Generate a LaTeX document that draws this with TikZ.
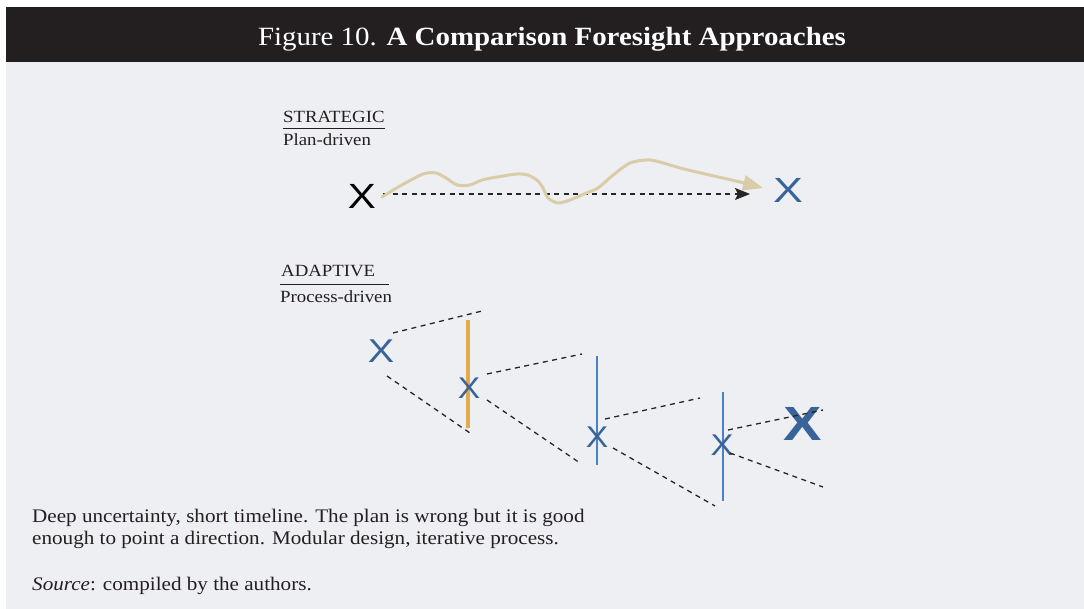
\documentclass[tikz,border=0pt]{standalone}
\usepackage{fontspec}
\setmainfont{Liberation Serif}[FakeStretch=1.1]
\usetikzlibrary{arrows.meta}
\newfontfamily\xfont{Liberation Sans}
\definecolor{panel}{HTML}{EEEFF3}
\definecolor{barc}{HTML}{231F20}
\definecolor{xblue}{HTML}{3A6499}
\definecolor{lblue}{HTML}{4A80C8}
\definecolor{orng}{HTML}{E2AA4A}
\definecolor{tanc}{HTML}{D9CCA8}
\definecolor{txt}{HTML}{231F20}
\tikzset{
  lbl/.style={inner sep=0, anchor=base west, text=txt, font=\fontsize{17.1}{20}\selectfont},
  body/.style={inner sep=0, anchor=base west, text=txt, font=\fontsize{19.2}{22}\selectfont},
  xm/.style={inner sep=0, text=xblue, font=\xfont\fontsize{33}{33}\selectfont},
  xs/.style={inner sep=0, text=xblue, font=\xfont\fontsize{30}{30}\selectfont},
  dsh/.style={draw=black!85, line width=1.3pt, dash pattern=on 5pt off 4.5pt},
}
\begin{document}
\begin{tikzpicture}[x=1pt,y=-1pt]
\useasboundingbox (0,0) rectangle (1084,609);
\fill[white] (0,0) rectangle (1084,609);
\fill[panel] (6,62) rectangle (1084,609);
\fill[barc] (6,7) rectangle (1084,62);
\node[inner sep=0, anchor=base, text=white, font=\fontsize{26.3}{30}\selectfont] (title) at (552,46) {Figure 10. \textbf{A Comparison Foresight Approaches}};

% STRATEGIC
\node[lbl] (strat) at (283,123) {STRATEGIC};
\draw[txt, line width=0.9pt] (283,128.5) -- (385,128.5);
\node[lbl] (plan) at (283,146) {Plan-driven};

\node[inner sep=0, text=black, font=\xfont\fontsize{35}{35}\selectfont] (xa) at (362,196) {\scalebox{1.2}[1]{X}};
\node[inner sep=0, text=xblue, font=\xfont\fontsize{35}{35}\selectfont] (xb) at (788,190) {\scalebox{1.28}[1]{X}};
\coordinate (ds) at (383,194);
\coordinate (de) at (750,194);
\draw[dsh, -{Stealth[length=15pt,width=12pt,inset=3pt]}] (ds) -- (de);
\draw[tanc, line width=3pt, line cap=round, line join=round, -{Triangle[length=20pt,width=15pt]}]
  plot[smooth, tension=0.45] coordinates {(382,197) (400,186) (423,174) (436,173) (446,178) (457,185) (470,185) (482,180) (497,177) (517,174) (528,175) (538,181) (543,188) (548,198) (558,203) (570,200) (584,194) (598,188) (612,176) (630,163) (650,160) (670,165) (684,169) (714,176) (740,182) (763,188)};

% ADAPTIVE
\node[lbl] (adapt) at (281,277) {ADAPTIVE};
\draw[txt, line width=0.9pt] (280,284.5) -- (389,284.5);
\node[lbl] (proc) at (280,303) {Process-driven};

\draw[orng, line width=4pt] (468,320) -- (468,428);
\draw[lblue, line width=1.3pt] (597,356) -- (597,465);
\draw[lblue, line width=1.3pt] (723,392) -- (723,501);

\node[xm] (x1) at (381,351) {\scalebox{1.2}[1]{X}};
\node[xs] (x2) at (469,388) {\scalebox{1.12}[1]{X}};
\node[xs] (x3) at (597,437) {\scalebox{1.12}[1]{X}};
\node[xs] (x4) at (722,445) {\scalebox{1.15}[1]{X}};
\node[inner sep=0, text=xblue, font=\xfont\bfseries\fontsize{48}{48}\selectfont] (x5) at (803,424) {\scalebox{1.2}[1]{X}};

\coordinate (u1s) at (393,333); \coordinate (u1e) at (482,311);
\coordinate (l1s) at (387,376); \coordinate (l1e) at (470,433);
\coordinate (u2s) at (487,374); \coordinate (u2e) at (582,354);
\coordinate (l2s) at (487,400); \coordinate (l2e) at (580,463);
\coordinate (u3s) at (605,419); \coordinate (u3e) at (700,398);
\coordinate (l3s) at (613,448); \coordinate (l3e) at (715,506);
\coordinate (u4s) at (728,430); \coordinate (u4e) at (823,410);
\coordinate (l4s) at (730,453); \coordinate (l4e) at (823,487);
\foreach \a/\b in {u1s/u1e,l1s/l1e,u2s/u2e,l2s/l2e,u3s/u3e,l3s/l3e,u4s/u4e,l4s/l4e}
  \draw[dsh] (\a) -- (\b);

% Text
\node[body] (desc1) at (32,522) {Deep uncertainty, short timeline. The plan is wrong but it is good};
\node[body] (desc2) at (32,544) {enough to point a direction. Modular design, iterative process.};
\node[body] (src) at (32,590) {\textit{Source}: compiled by the authors.};
\end{tikzpicture}
\end{document}
